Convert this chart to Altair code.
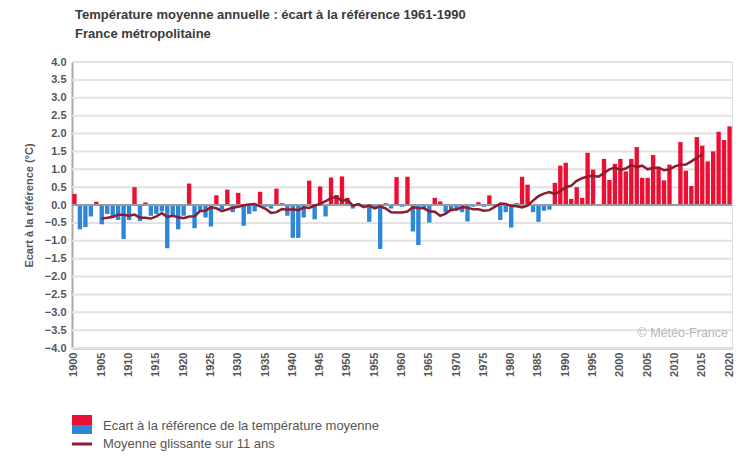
import altair as alt
import pandas as pd

years = list(range(1900, 2021))
ecart = [
    0.31, -0.68, -0.62, -0.32, 0.09, -0.54, -0.25, -0.32, -0.42, -0.95,
    -0.42, 0.50, -0.45, 0.07, -0.30, -0.25, -0.18, -1.21, -0.30, -0.68,
    -0.30, 0.60, -0.65, -0.15, -0.35, -0.60, 0.27, -0.12, 0.43, -0.20,
    0.34, -0.58, -0.25, -0.18, 0.37, -0.05, -0.10, 0.46, 0.05, -0.30,
    -0.92, -0.92, -0.35, 0.68, -0.40, 0.52, -0.32, 0.77, 0.28, 0.80,
    0.20, -0.10, 0.05, -0.05, -0.47, -0.10, -1.23, 0.05, -0.10, 0.78,
    -0.05, 0.79, -0.74, -1.12, -0.10, -0.49, 0.20, 0.10, -0.20, -0.18,
    -0.15, -0.20, -0.46, -0.05, 0.08, -0.05, 0.27, 0.03, -0.42, -0.20,
    -0.63, 0.05, 0.79, 0.57, -0.20, -0.47, -0.16, -0.13, 0.62, 1.10,
    1.18, 0.17, 0.50, 0.20, 1.46, 0.99, 0.03, 1.29, 0.70, 1.15,
    1.29, 0.94, 1.29, 1.62, 0.76, 0.76, 1.40, 1.07, 0.69, 1.13,
    0.03, 1.76, 0.96, 0.53, 1.90, 1.66, 1.22, 1.50, 2.05, 1.82,
    2.20,
]
x_label_years = list(range(1900, 2021, 5))
y_ticks = [-4.0, -3.5, -3.0, -2.5, -2.0, -1.5, -1.0, -0.5, 0.0,
           0.5, 1.0, 1.5, 2.0, 2.5, 3.0, 3.5, 4.0]
zero_line = [0.0]
legend_labels = ["Ecart à la référence de la température moyenne",
                 "Moyenne glissante sur 11 ans"]

RED = "#ec0f33"
BLUE = "#2d86d6"
LINE = "#8c1c2e"
GREY = "#555555"
FONT = "Liberation Sans"

df = pd.DataFrame({"annee": years, "ecart": ecart})

y_scale = alt.Scale(domain=[-4, 4], nice=False)
y_axis = alt.Axis(values=y_ticks, tickCount=17, format=".1f", labelFontWeight="bold",
                  labelFontSize=11, labelColor=GREY, labelFont=FONT,
                  ticks=False, labelPadding=6, labelOverlap=False,
                  title="Ecart à la référence (°C)", titleFont=FONT,
                  titleFontSize=11, titleFontWeight="bold", titleColor=GREY,
                  titlePadding=10, grid=False,
                  domainColor="#a8a8a8", domainWidth=2)

x_scale = alt.Scale(paddingInner=0.2, paddingOuter=0.05)
x_axis = alt.Axis(values=x_label_years, labelAngle=-90, labelAlign="right",
                  labelBaseline="middle", labelFontWeight="bold",
                  labelFontSize=11, labelColor=GREY, labelFont=FONT,
                  ticks=False, labelPadding=4, title=None,
                  labelOverlap=False,
                  domainColor="#a8a8a8", domainWidth=2)

grid = alt.Chart(pd.DataFrame({"g": y_ticks})).mark_rule(
    color="#e2e2e2", strokeWidth=2).encode(
    y=alt.Y("g:Q", scale=y_scale, axis=y_axis))

bars = alt.Chart(df).mark_bar().encode(
    x=alt.X("annee:O", scale=x_scale, axis=x_axis),
    y=alt.Y("ecart:Q", scale=y_scale, axis=y_axis),
    color=alt.condition(alt.datum.ecart >= 0, alt.value(RED), alt.value(BLUE)),
)

zero = alt.Chart(pd.DataFrame({"v": zero_line})).mark_rule(
    color="#9a9a9a", strokeWidth=2).encode(
    y=alt.Y("v:Q", scale=y_scale, axis=y_axis))

moyenne = alt.Chart(df).transform_window(
    moy="mean(ecart)", frame=[-5, 5], sort=[alt.SortField("annee")]
).transform_filter(
    (alt.datum.annee >= 1905) & (alt.datum.annee <= 2015)
).mark_line(color=LINE, strokeWidth=2.5).encode(
    x=alt.X("annee:O", scale=x_scale, axis=x_axis),
    y=alt.Y("moy:Q", scale=y_scale, axis=y_axis))

watermark = alt.Chart(pd.DataFrame({"t": ["© Météo-France"]})).mark_text(
    align="right", baseline="middle", fontSize=12.5, color="#b8b8b8", font=FONT
).encode(x=alt.value(656), y=alt.value(271), text="t:N")

leg = pd.DataFrame({"label": legend_labels})
leg_red = alt.Chart(leg.iloc[[0]]).mark_rect(color=RED).encode(
    x=alt.value(0), x2=alt.value(20), y=alt.value(353), y2=alt.value(363))
leg_blue = alt.Chart(leg.iloc[[0]]).mark_rect(color=BLUE).encode(
    x=alt.value(0), x2=alt.value(20), y=alt.value(363), y2=alt.value(372))
leg_line = alt.Chart(leg.iloc[[1]]).mark_rule(color=LINE, strokeWidth=3).encode(
    x=alt.value(0), x2=alt.value(20), y=alt.value(382))
leg_text1 = alt.Chart(leg.iloc[[0]]).mark_text(
    align="left", baseline="middle", fontSize=13, color=GREY, font=FONT
).encode(x=alt.value(31), y=alt.value(364), text="label:N")
leg_text2 = alt.Chart(leg.iloc[[1]]).mark_text(
    align="left", baseline="middle", fontSize=13, color=GREY, font=FONT
).encode(x=alt.value(31), y=alt.value(382), text="label:N")

chart = alt.layer(
    grid, bars, zero, moyenne, watermark, leg_red, leg_blue, leg_line,
    leg_text1, leg_text2
).properties(
    width=660, height=286,
    padding={"left": 64, "top": 54, "right": 2, "bottom": 104},
    autosize=alt.AutoSizeParams(type="none"),
    title=alt.TitleParams(
        text="Température moyenne annuelle : écart à la référence 1961-1990",
        subtitle="France métropolitaine",
        anchor="start", frame="group", dx=3, offset=15,
        font=FONT, fontSize=13, fontWeight="bold", color="#3a3a3a",
        subtitleFont=FONT, subtitleFontSize=13, subtitleFontWeight="bold",
        subtitleColor="#3a3a3a", subtitlePadding=6,
    ),
).configure_view(stroke=None).configure(background="white")

chart.save("out.html", embed_options={"renderer": "svg", "actions": False})
